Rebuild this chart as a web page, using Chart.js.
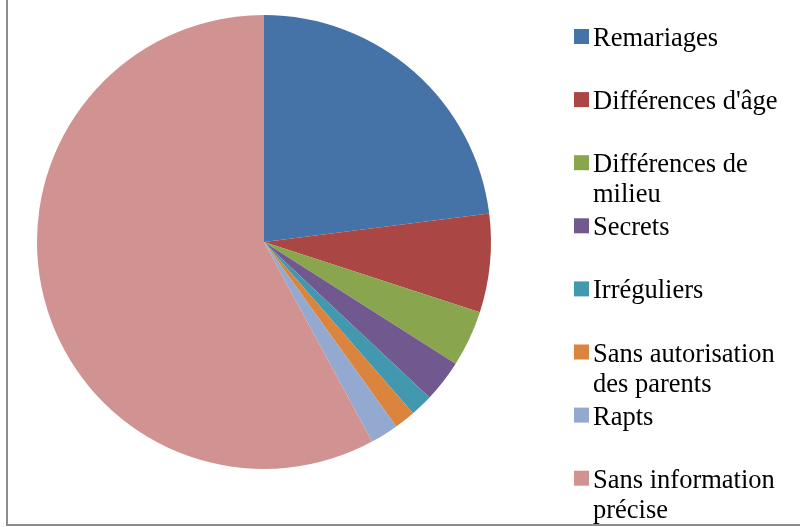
<!DOCTYPE html>
<html>
<head>
<meta charset="utf-8">
<script src="https://cdn.jsdelivr.net/npm/chart.js@4.4.0/dist/chart.umd.min.js"></script>
<style>
html, body { margin:0; padding:0; background:#fff; }
#wrap { position:relative; width:800px; height:527px; }
</style>
</head>
<body>
<div id="wrap"><canvas id="pieChart" width="800" height="527"></canvas></div>
<script>
'use strict';
// categories (multi-line labels as arrays)
var labels = [
    'Remariages',
    "Différences d'âge",
    ['Différences de', 'milieu'],
    'Secrets',
    'Irréguliers',
    ['Sans autorisation', 'des parents'],
    'Rapts',
    ['Sans information', 'précise']
];
// share of each category, in percent
var values = [23.0, 7.0, 4.0, 3.0, 1.6, 1.5, 2.0, 57.9];
var colors = ['#4572A7', '#AA4643', '#89A54E', '#71588F', '#4198AF', '#DB843D', '#93A9CF', '#D19392'];

// legend + frame drawn by hand, Excel-like
var sideLegend = {
    id:'sideLegend',
    afterDraw:function (chart) {
        var ctx = chart.ctx;
        ctx.save();
        // frame: left and bottom lines only are visible
        ctx.strokeStyle = '#8c8c8c';
        ctx.lineWidth = 2;
        ctx.beginPath();
        ctx.moveTo(7, 0);
        ctx.lineTo(7, 525);
        ctx.lineTo(800, 525);
        ctx.stroke();

        ctx.font = '26.5px "Liberation Serif", "Times New Roman", serif';
        ctx.textBaseline = 'alphabetic';
        ctx.fillStyle = '#000';
        var lbl = chart.data.labels;
        var bg = chart.data.datasets[0].backgroundColor;
        for (var i = 0; i < lbl.length; i++) {
            var y = 46 + i * 63.1;
            ctx.fillStyle = bg[i];
            ctx.fillRect(574, y - 17, 15, 15);
            ctx.fillStyle = '#000';
            var lines = Array.isArray(lbl[i]) ? lbl[i] : [lbl[i]];
            for (var k = 0; k < lines.length; k++) {
                ctx.fillText(lines[k], 593, y + k * 30);
            }
        }
        ctx.restore();
    }
};

new Chart(document.getElementById('pieChart').getContext('2d'), {
    type:'pie',
    data:{
        labels:labels,
        datasets:[{
            data:values,
            backgroundColor:colors,
            borderWidth:0
        }]
    },
    options:{
        responsive:false,
        animation:false,
        layout:{ padding:{ top:15, bottom:58, left:37, right:309 } },
        plugins:{ legend:{ display:false }, tooltip:{ enabled:false } }
    },
    plugins:[sideLegend]
});
</script>
</body>
</html>
